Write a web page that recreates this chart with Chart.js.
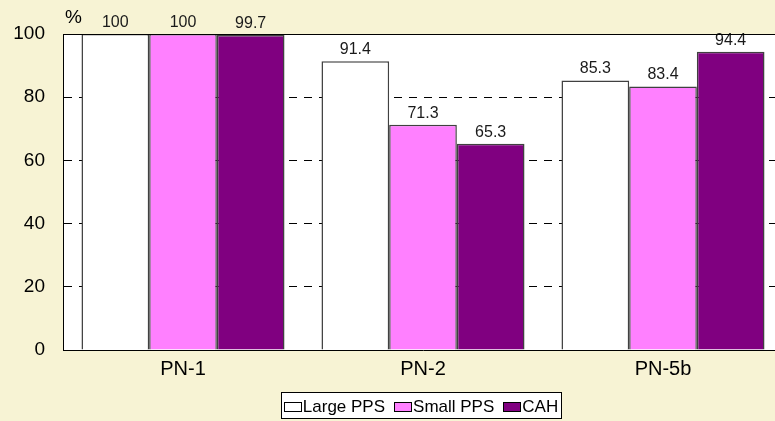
<!DOCTYPE html>
<html><head><meta charset="utf-8">
<script src="https://cdn.jsdelivr.net/npm/chart.js@4"></script>
<style>html,body{margin:0;padding:0;background:#F7F3D4;overflow:hidden;width:775px;height:421px}canvas{display:block}</style>
</head><body><canvas id="c" width="800" height="421"></canvas>
<script>
const categories = ['PN-1', 'PN-2', 'PN-5b'];
const seriesNames = ['Large PPS', 'Small PPS', 'CAH'];
const largePPS = [100, 91.4, 85.3];
const smallPPS = [100, 71.3, 83.4];
const cah = [99.7, 65.3, 94.4];
const yTicks = [0, 20, 40, 60, 80, 100];
const unitLabel = '%';

const FONT = '"Liberation Sans", Arial, sans-serif';
const BG = '#F7F3D4';

const bgPlugin = {
  id: 'bg',
  beforeDraw(chart) {
    const {ctx, chartArea: a} = chart;
    ctx.save();
    ctx.fillStyle = BG;
    ctx.fillRect(0, 0, chart.width, chart.height);
    ctx.fillStyle = '#FFFFFF';
    ctx.fillRect(a.left, a.top, a.right - a.left, a.bottom - a.top);
    ctx.restore();
  }
};

const valuePlugin = {
  id: 'values',
  afterDatasetsDraw(chart) {
    const {ctx} = chart;
    ctx.save();
    ctx.font = '16px ' + FONT;
    ctx.fillStyle = '#1a1a1a';
    ctx.textAlign = 'center';
    ctx.textBaseline = 'alphabetic';
    chart.data.datasets.forEach((ds, di) => {
      chart.getDatasetMeta(di).data.forEach((bar, i) => {
        ctx.fillText(String(ds.data[i]), bar.x, bar.y - 7);
      });
    });
    ctx.restore();
  }
};

const framePlugin = {
  id: 'frame',
  afterDraw(chart) {
    const {ctx, chartArea: a} = chart;
    ctx.save();
    // top frame line
    ctx.strokeStyle = '#000';
    ctx.lineWidth = 1;
    ctx.beginPath();
    ctx.moveTo(a.left, Math.round(a.top) + 0.5);
    ctx.lineTo(a.right, Math.round(a.top) + 0.5);
    ctx.stroke();
    // unit label
    ctx.font = '19px ' + FONT;
    ctx.fillStyle = '#000';
    ctx.textAlign = 'left';
    ctx.textBaseline = 'alphabetic';
    ctx.fillText(unitLabel, a.left + 2, 23);
    // legend
    ctx.font = '17px ' + FONT;
    const mw = 17, mh = 9, gap = 2, spacing = 9, pad = 3;
    const items = chart.data.datasets.map(ds => ({
      text: ds.label, fill: ds.backgroundColor, stroke: '#000',
      w: ctx.measureText(ds.label).width
    }));
    let total = 0;
    items.forEach((it, i) => { total += mw + gap + it.w + (i < items.length - 1 ? spacing : 0); });
    const cx = 421;
    let x = cx - total / 2;
    const boxL = Math.round(x - pad) + 0.5, boxR = Math.round(x + total + pad) + 0.5;
    const boxT = 392.5, boxB = 418.5;
    ctx.fillStyle = '#FFFFFF';
    ctx.fillRect(boxL, boxT, boxR - boxL, boxB - boxT);
    ctx.strokeStyle = '#000';
    ctx.lineWidth = 1;
    ctx.strokeRect(boxL, boxT, boxR - boxL, boxB - boxT);
    const cy = 406.5;
    ctx.textBaseline = 'middle';
    items.forEach(it => {
      ctx.fillStyle = it.fill;
      const mx = Math.round(x) + 0.5, my = Math.round(cy - mh / 2) + 0.5;
      ctx.fillRect(mx, my, mw, mh);
      ctx.strokeStyle = '#000';
      ctx.strokeRect(mx, my, mw, mh);
      ctx.fillStyle = '#000';
      ctx.fillText(it.text, x + mw + gap, cy + 1);
      x += mw + gap + it.w + spacing;
    });
    ctx.restore();
  }
};

const barCommon = { borderColor: '#404040', borderWidth: 1.5, barPercentage: 1, categoryPercentage: 0.846 };

new Chart(document.getElementById('c'), {
  type: 'bar',
  data: {
    labels: categories,
    datasets: [
      Object.assign({ label: seriesNames[0], data: largePPS, backgroundColor: '#FFFFFF' }, barCommon),
      Object.assign({ label: seriesNames[1], data: smallPPS, backgroundColor: '#FF80FF' }, barCommon),
      Object.assign({ label: seriesNames[2], data: cah, backgroundColor: '#800080' }, barCommon)
    ]
  },
  options: {
    responsive: false,
    devicePixelRatio: 1,
    animation: false,
    layout: { padding: { left: 0, top: 34, right: 17, bottom: 0 } },
    plugins: { legend: { display: false }, tooltip: { enabled: false }, title: { display: false } },
    scales: {
      x: {
        afterFit(s) { s.height = 71; },
        grid: { display: false, drawTicks: false },
        border: { display: true, color: '#000', width: 1, z: 1 },
        ticks: { font: { size: 20, family: FONT }, color: '#000', padding: 7 }
      },
      y: {
        min: 0, max: 100,
        afterFit(s) { s.width = 63; },
        afterBuildTicks(s) { s.ticks = yTicks.map(v => ({ value: v })); },
        grid: {
          drawTicks: false,
          lineWidth: 1,
          color: c => (c.tick && (c.tick.value === 0 || c.tick.value === 100)) ? 'rgba(0,0,0,0)' : '#000'
        },
        border: { display: true, color: '#000', width: 1, dash: [8, 7], z: 1 },
        ticks: { font: { size: 19, family: FONT }, color: '#000', padding: 18 }
      }
    }
  },
  plugins: [bgPlugin, valuePlugin, framePlugin]
});
</script></body></html>
